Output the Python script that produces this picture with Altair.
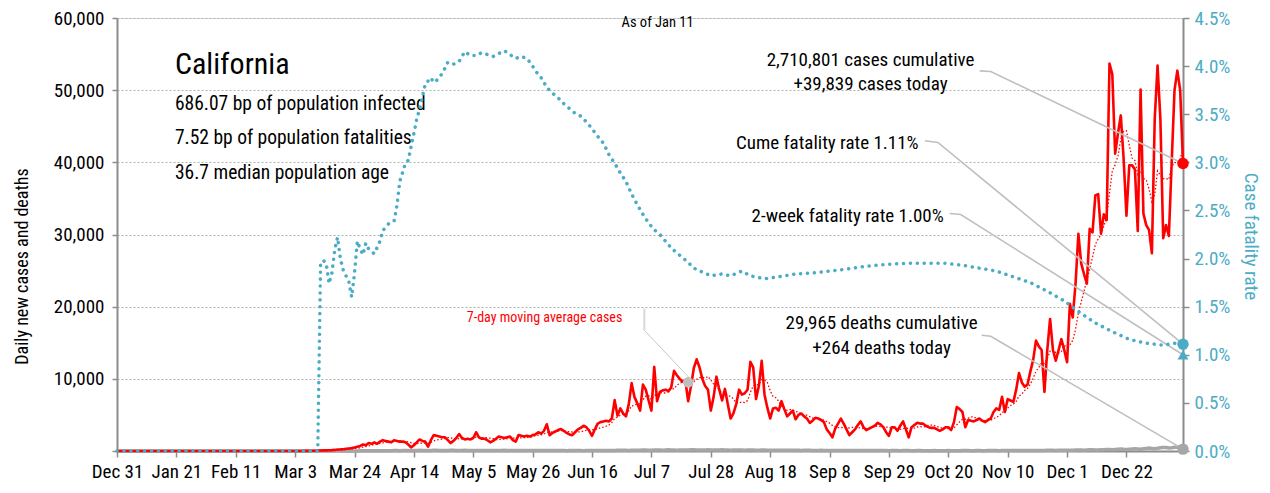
import altair as alt
import pandas as pd

START = "2019-12-31"

# ---------------- data ----------------
# daily new cases, Dec 31 2019 .. Feb 29 2020 are zero, then Mar 1 2020 .. Jan 11 2021
cases_jan_feb = [0] * 61
cases_mar_on = [
    2, 3, 5, 10, 8, 15, 20, 20, 25, 40,
    50, 60, 80, 90, 100, 120, 150, 200, 220, 250,
    300, 350, 400, 500, 600, 700, 900, 800, 1100, 1000,
    1200, 1000, 1300, 1500, 1400, 1300, 1200, 1500, 1400, 1300,
    1300, 1200, 900, 500, 800, 1200, 1600, 1400, 1300, 600,
    1500, 2200, 2100, 2000, 1900, 1900, 1500, 1100, 1400, 1800,
    2350, 1800, 1600, 1700, 1600, 1800, 2600, 1900, 1700, 1700,
    1500, 1200, 1400, 1700, 2000, 1900, 1800, 1900, 2000, 1500,
    1300, 2200, 2100, 2000, 2100, 2000, 2200, 2300, 2600, 2400,
    2800, 3700, 2200, 2500, 2700, 2900, 3050, 2800, 2500, 2300,
    2200, 2600, 3000, 3200, 3500, 3300, 2800, 2100, 3000, 3800,
    4000, 4100, 4200, 4100, 4500, 7050, 4900, 5900, 5200, 4800,
    6500, 9400, 7500, 6600, 5600, 9200, 8500, 7000, 5600, 11650,
    6900, 8200, 8400, 8500, 8300, 8800, 11100, 10500, 10000, 9600,
    9800, 6900, 9000, 11500, 12700, 11600, 10000, 9000, 8500, 5600,
    7500, 10300, 8500, 7000, 8600, 6500, 4500, 5200, 6500, 8500,
    7800, 8000, 8500, 12350, 11600, 7200, 9000, 12500, 7800, 6000,
    4500, 5900, 6000, 5600, 6900, 5800, 4800, 5200, 5600, 4400,
    5000, 5200, 4800, 4500, 3900, 4200, 4600, 4500, 4300, 4000,
    3000, 2500, 1900, 3100, 3800, 4500, 3800, 3000, 2200, 2600,
    3000, 3600, 4100, 3300, 2900, 3100, 3300, 3500, 3900, 3700,
    3300, 2600, 2100, 3300, 3300, 2800, 3500, 4100, 3000, 1900,
    3300, 3600, 3900, 3800, 3800, 3500, 3300, 3200, 3200, 3000,
    2800, 3000, 3300, 3300, 2900, 4000, 6100, 5800, 5400, 3300,
    4300, 4200, 4100, 4300, 4500, 4200, 4000, 4300, 4500, 5400,
    5900, 5700, 7500, 5400, 7200, 7000, 6800, 8500, 10800, 9500,
    8900, 9200, 11000, 12600, 15300, 14500, 14000, 8200, 14000, 18300,
    14000, 12500, 14000, 15500, 14000, 12300, 20400, 18500, 23200, 30100,
    26000, 24500, 23200, 30800, 30300, 35400, 35600, 30100, 32800, 32000,
    53700, 52200, 41200, 44000, 46500, 40500, 32600, 39600, 39600, 39000,
    30500, 50100, 32900, 31300, 30600, 27400, 46000, 53400, 46000, 29500,
    31300, 29800, 40000, 50000, 52700, 50000, 39839,
]

deaths_jan_feb = [0] * 61
deaths_mar_on = [
    0, 0, 0, 1, 0, 0, 0, 0, 0, 0,
    1, 2, 1, 1, 2, 1, 3, 5, 4, 6,
    5, 8, 10, 12, 15, 20, 18, 25, 22, 30,
    35, 40, 45, 50, 40, 45, 50, 60, 55, 50,
    60, 65, 55, 40, 70, 80, 90, 85, 75, 60,
    85, 90, 95, 80, 85, 75, 70, 90, 95, 85,
    80, 75, 90, 85, 70, 80, 85, 75, 70, 65,
    80, 85, 75, 70, 65, 70, 90, 80, 75, 60,
    55, 70, 80, 75, 65, 60, 60, 70, 75, 70,
    65, 60, 55, 70, 75, 70, 60, 55, 50, 60,
    65, 70, 60, 55, 45, 60, 70, 75, 65, 55,
    60, 75, 80, 85, 70, 60, 90, 100, 110, 95,
    85, 100, 120, 110, 100, 130, 140, 120, 110, 150,
    140, 130, 120, 150, 160, 145, 130, 120, 140, 155,
    150, 140, 160, 170, 145, 135, 130, 150, 160, 140,
    125, 140, 150, 160, 145, 130, 120, 135, 150, 140,
    130, 120, 140, 145, 130, 115, 110, 125, 130, 120,
    100, 115, 120, 110, 105, 95, 90, 100, 110, 95,
    90, 85, 95, 100, 90, 80, 75, 85, 90, 80,
    70, 65, 75, 80, 85, 75, 65, 60, 70, 75,
    70, 65, 60, 70, 75, 65, 55, 60, 65, 70,
    60, 55, 50, 60, 65, 60, 50, 55, 60, 55,
    50, 45, 55, 60, 50, 45, 40, 50, 55, 50,
    45, 40, 50, 55, 50, 45, 40, 50, 55, 60,
    55, 45, 50, 60, 55, 50, 45, 55, 60, 65,
    55, 50, 60, 70, 65, 60, 55, 65, 70, 75,
    70, 60, 75, 80, 85, 75, 65, 80, 90, 100,
    95, 85, 100, 110, 120, 105, 95, 115, 130, 140,
    125, 110, 140, 160, 170, 150, 135, 170, 190, 210,
    200, 180, 220, 240, 260, 230, 210, 250, 280, 300,
    280, 250, 300, 350, 400, 360, 320, 380, 450, 500,
    480, 420, 460, 520, 560, 480, 264,
]

cases = cases_jan_feb + cases_mar_on
deaths = deaths_jan_feb + deaths_mar_on

# cumulative case fatality rate (%), read at day offsets from Dec 31 2019
cfr_day = [0, 71, 72, 73, 74, 75, 76, 77, 78, 79, 80, 82, 83, 84, 85, 86, 87, 88, 89,
           91, 93, 94, 96, 98, 99, 100, 102, 103, 105, 106, 107, 108, 109, 111, 112,
           113, 115, 117, 119, 121, 123, 125, 127, 129, 131, 133, 135, 137, 139, 141,
           143, 145, 147, 148, 150, 152, 154, 156, 158, 160, 162, 164, 166, 168, 170,
           172, 174, 176, 178, 180, 182, 184, 186, 188, 190, 192, 194, 196, 198, 200,
           202, 204, 207, 210, 214, 217, 221, 224, 229, 234, 240, 246, 252, 258, 265,
           272, 279, 286, 293, 299, 305, 311, 317, 323, 329, 335, 340, 346, 352, 358,
           364, 370, 374, 377]
cfr_pct = [0.0, 0.0, 1.95, 1.98, 1.95, 1.74, 1.85, 2.09, 2.22, 2.0, 1.88, 1.76, 1.6,
           1.85, 2.18, 2.1, 2.04, 2.16, 2.1, 2.05, 2.18, 2.29, 2.36, 2.39, 2.55, 2.8,
           2.99, 3.02, 3.3, 3.45, 3.55, 3.68, 3.81, 3.88, 3.83, 3.85, 3.92, 4.04, 4.02,
           4.05, 4.15, 4.11, 4.11, 4.14, 4.12, 4.1, 4.13, 4.16, 4.12, 4.08, 4.1, 4.08,
           4.0, 3.95, 3.88, 3.78, 3.72, 3.67, 3.61, 3.56, 3.51, 3.48, 3.42, 3.35, 3.27,
           3.2, 3.08, 2.99, 2.89, 2.8, 2.67, 2.56, 2.46, 2.37, 2.3, 2.25, 2.18, 2.11,
           2.06, 2.01, 1.96, 1.9, 1.86, 1.82, 1.84, 1.82, 1.87, 1.82, 1.79, 1.81, 1.84,
           1.85, 1.87, 1.89, 1.92, 1.94, 1.95, 1.95, 1.95, 1.93, 1.90, 1.87, 1.81, 1.75,
           1.66, 1.56, 1.45, 1.33, 1.24, 1.16, 1.12, 1.10, 1.12, 1.11]

latest_cum_cfr = 1.11
latest_2wk_cfr = 1.00

x_tick_dates = ["2019-12-31", "2020-01-21", "2020-02-11", "2020-03-03", "2020-03-24",
                "2020-04-14", "2020-05-05", "2020-05-26", "2020-06-16", "2020-07-07",
                "2020-07-28", "2020-08-18", "2020-09-08", "2020-09-29", "2020-10-20",
                "2020-11-10", "2020-12-01", "2020-12-22"]

# ---------------- tables ----------------
base = pd.Timestamp(START)


def to_dates(days):
    return [base + pd.Timedelta(days=float(d)) for d in days]


df = pd.DataFrame({
    "date": pd.date_range(START, periods=len(cases), freq="D"),
    "idx": list(range(len(cases))),
    "cases": cases,
    "deaths": deaths,
})
cfr_df = pd.DataFrame({"date": to_dates(cfr_day), "cfr": cfr_pct})
last_day = len(cases) - 1
end_cfr = pd.DataFrame({"date": to_dates([last_day, last_day]),
                        "cfr": [latest_cum_cfr, latest_2wk_cfr],
                        "kind": ["cume", "2wk"]})

# annotation anchors (day offset, value on left scale)
ann_center = pd.DataFrame({
    "text": ["2,710,801 cases cumulative", "+39,839 cases today",
             "29,965 deaths cumulative", "+264 deaths today"],
    "day": [266.5, 266.5, 270.4, 270.4],
    "val": [54190, 50880, 17700, 14240]})
ann_right = pd.DataFrame({
    "text": ["Cume fatality rate 1.11%", "2-week fatality rate 1.00%"],
    "day": [283.5, 292.4],
    "val": [42720, 32630]})
ann_stats = pd.DataFrame({
    "text": ["686.07 bp of population infected", "7.52 bp of population fatalities",
             "36.7 median population age"],
    "day": [20.5, 20.5, 20.5],
    "val": [48110, 43410, 38570]})
ann_title = pd.DataFrame({"text": ["California"], "day": [20.5], "val": [52260]})
ann_asof = pd.DataFrame({"text": ["As of Jan 11"], "day": [191.2], "val": [59310]})
ann_ma = pd.DataFrame({"text": ["7-day moving average cases"], "day": [151.2], "val": [18390]})
for t in (ann_center, ann_right, ann_stats, ann_title, ann_asof, ann_ma):
    t["date"] = to_dates(t["day"])

leaders = pd.DataFrame({
    "grp": ["c"] * 3 + ["f"] * 3 + ["w"] * 3 + ["d"] * 3,
    "ord": [0, 1, 2] * 4,
    "day": [305.1, 309.0, 377, 285.7, 290.3, 377, 294.5, 298.4, 377, 305.8, 309.0, 377],
    "val": [52670, 52580, 39839, 43000, 42760, 14800, 32900, 32770, 13333, 16040, 15900, 264]})
leaders["date"] = to_dates(leaders["day"])
ma_stem = pd.DataFrame({"ord": [0, 1], "day": [186.5, 186.5], "val": [19770, 16730]})
ma_stem["date"] = to_dates(ma_stem["day"])
ma_diag = pd.DataFrame({"ord": [0, 1], "day": [186.5, 202.5], "val": [16730, 10090]})
ma_diag["date"] = to_dates(ma_diag["day"])

# ---------------- style ----------------
FONT = "Roboto Condensed, Liberation Sans Narrow, Noto Sans Condensed, Open Sans Condensed, Roboto, sans-serif"
RED = "#ff0000"
BLUE = "#4bacc6"
GREY = "#a6a6a6"
AXIS = "#8c8c8c"

x_enc = alt.X(
    "date:T",
    scale=alt.Scale(domain=[alt.DateTime(year=2019, month=12, date=31),
                            alt.DateTime(year=2021, month=1, date=11)]),
    axis=alt.Axis(
        values=[alt.DateTime(year=int(s[:4]), month=int(s[5:7]), date=int(s[8:]))
                for s in x_tick_dates],
        format="%b %-d", labelAngle=0, labelFontSize=19, labelColor="black",
        labelFont=FONT, domainColor=AXIS, domainWidth=2, tickColor=AXIS,
        tickSize=6, tickWidth=1.5, grid=False, title=None, labelOverlap=False,
        labelPadding=5, labelFlush=False),
)


def ly(field):
    return alt.Y(
        field,
        scale=alt.Scale(domain=[0, 60000], nice=False, zero=True),
        axis=alt.Axis(
            values=[0, 10000, 20000, 30000, 40000, 50000, 60000],
            labelExpr="datum.value == 0 ? '' : format(datum.value, ',.0f')",
            orient="left", labelFontSize=19, labelColor="black", labelFont=FONT,
            labelPadding=8, domainColor=AXIS, domainWidth=2, tickColor=AXIS,
            tickSize=5, tickWidth=1.5, grid=True, gridColor="#b0b0b0",
            gridDash=[2, 2], gridWidth=1,
            title="Daily new cases and deaths", titleFont=FONT, titleFontSize=18,
            titleFontWeight="normal", titleColor="black", titleX=-95, titleY=248,
            titleAngle=-90, titleAlign="center", titleBaseline="middle"),
    )


def ry(field):
    return alt.Y(
        field,
        scale=alt.Scale(domain=[0, 4.5], nice=False, zero=True),
        axis=alt.Axis(
            values=[0, 0.5, 1, 1.5, 2, 2.5, 3, 3.5, 4, 4.5],
            labelExpr="format(datum.value, '.1f') + '%'",
            orient="right", labelFontSize=19, labelColor=BLUE, labelFont=FONT,
            labelPadding=5, domainColor=AXIS, domainWidth=2, tickColor=AXIS,
            tickSize=6, tickWidth=1.5, grid=False,
            title="Case fatality rate", titleFont=FONT, titleFontSize=19,
            titleFontWeight="normal", titleColor=BLUE, titleX=67, titleY=218,
            titleAngle=90, titleAlign="center", titleBaseline="middle"),
    )


main = alt.Chart(df)
deaths_line = main.mark_line(color=GREY, strokeWidth=3.5).encode(x=x_enc, y=ly("deaths:Q"))
cases_line = main.mark_line(color=RED, strokeWidth=2.6, strokeJoin="round").encode(
    x=x_enc, y=ly("cases:Q"))
ma_base = main.transform_window(ma="mean(cases)", frame=[-6, 0],
                                sort=[alt.SortField("date")])
ma_line = ma_base.mark_line(color=RED, strokeWidth=1.3, strokeDash=[1.5, 2]).encode(
    x=x_enc, y=ly("ma:Q"))
ma_dot = ma_base.transform_filter("datum.idx == 202").mark_circle(
    color="#bfbfbf", size=110, opacity=1).encode(x=x_enc, y=ly("ma:Q"))

leader_lines = alt.Chart(leaders).mark_line(color="#bfbfbf", strokeWidth=1.6).encode(
    x=x_enc, y=ly("val:Q"), detail="grp:N", order="ord:Q")
ma_stem_line = alt.Chart(ma_stem).mark_line(color="#d9d9d9", strokeWidth=2).encode(
    x=x_enc, y=ly("val:Q"), order="ord:Q")
ma_diag_line = alt.Chart(ma_diag).mark_line(color="#c8c8c8", strokeWidth=1).encode(
    x=x_enc, y=ly("val:Q"), order="ord:Q")

red_dot = main.transform_filter(f"datum.idx == {last_day}").mark_circle(
    color=RED, size=130, opacity=1).encode(x=x_enc, y=ly("cases:Q"))
grey_dot = main.transform_filter(f"datum.idx == {last_day}").mark_circle(
    color=GREY, size=130, opacity=1).encode(x=x_enc, y=ly("deaths:Q"))


def text_layer(tab, size, align="center", baseline="middle", color="black"):
    return alt.Chart(tab).mark_text(
        font=FONT, fontSize=size, align=align, baseline=baseline, color=color
    ).encode(x=x_enc, y=ly("val:Q"), text="text:N")


t_title = text_layer(ann_title, 30, align="left", baseline="alphabetic")
t_stats = text_layer(ann_stats, 19.5, align="left")
t_center = text_layer(ann_center, 19)
t_right = text_layer(ann_right, 19, align="right")
t_asof = text_layer(ann_asof, 14.5)
t_ma = text_layer(ann_ma, 14, color=RED)

left = alt.layer(
    deaths_line, ma_line, cases_line, leader_lines, ma_stem_line, ma_diag_line,
    ma_dot, grey_dot, red_dot, t_title, t_stats, t_center, t_right, t_asof, t_ma)

cfr_line = alt.Chart(cfr_df).mark_line(
    color=BLUE, strokeWidth=3.5, strokeDash=[0.1, 6.8], strokeCap="round").encode(
    x=x_enc, y=ry("cfr:Q"))
cfr_circle = alt.Chart(end_cfr).transform_filter("datum.kind == 'cume'").mark_point(
    shape="circle", filled=True, color=BLUE, size=130, opacity=1).encode(
    x=x_enc, y=ry("cfr:Q"))
cfr_tri = alt.Chart(end_cfr).transform_filter("datum.kind == '2wk'").mark_point(
    shape="triangle-up", filled=True, color=BLUE, size=120, opacity=1).encode(
    x=x_enc, y=ry("cfr:Q"))

right = alt.layer(cfr_line, cfr_circle, cfr_tri)

chart = alt.layer(left, right).resolve_scale(y="independent").properties(
    width=1066, height=433,
    padding={"left": 109, "top": 10, "right": 79, "bottom": 32},
    autosize=alt.AutoSizeParams(type="none"),
).configure_view(stroke=None).configure(background="white")

chart.save("out.html", embed_options={"renderer": "svg", "actions": False})
